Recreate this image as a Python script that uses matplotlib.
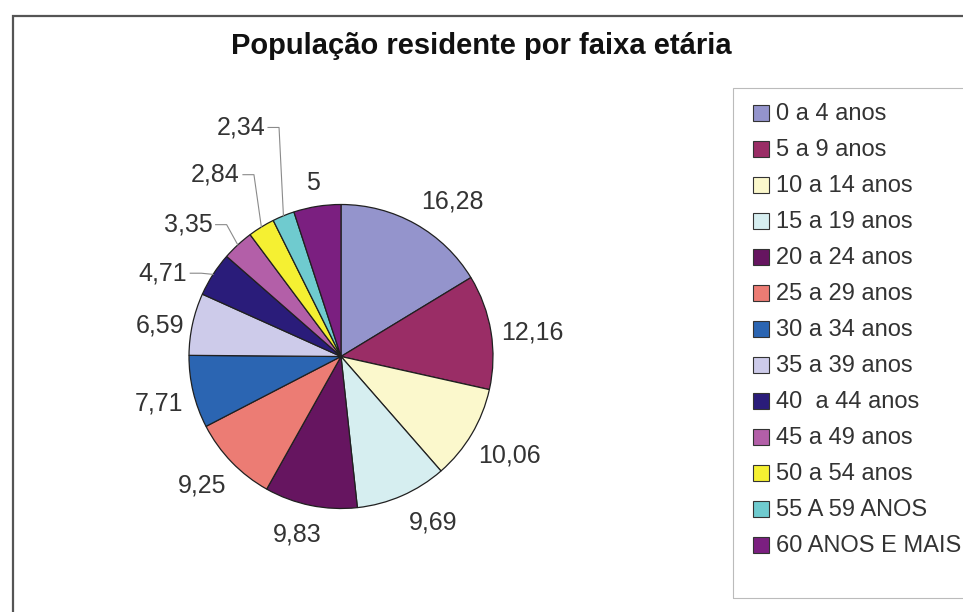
#------------------------------------------------ Packages used ------------------------------------------------#
import numpy as np
import matplotlib
matplotlib.use('Agg')
import matplotlib.pyplot as plt
from matplotlib.patches import Rectangle
#--------------------------------------------------------------------------------------------------------------#

plt.rcParams['font.family'] = ['Liberation Sans', 'DejaVu Sans']

# dados do grafico
titulo = 'População residente por faixa etária'
faixas = ['0 a 4 anos', '5 a 9 anos', '10 a 14 anos', '15 a 19 anos', '20 a 24 anos',
          '25 a 29 anos', '30 a 34 anos', '35 a 39 anos', '40  a 44 anos', '45 a 49 anos',
          '50 a 54 anos', '55 A 59 ANOS', '60 ANOS E MAIS']
percentuais = [16.28, 12.16, 10.06, 9.69, 9.83, 9.25, 7.71, 6.59, 4.71, 3.35, 2.84, 2.34, 5]
cores = ['#9494CC', '#9A2D66', '#FBF8CC', '#D6EEF0', '#661560', '#EC7C74', '#2B65B2',
         '#CDCBEA', '#2A1C7A', '#B35FA8', '#F5F032', '#6FCBCF', '#7B1F80']

# layout (pixels, y measured from top)
W, H = 963, 612
CX, CY, R = 341, 356.5, 152
GAP = 12
# labels moved by hand, with leader lines: index -> (angle, radius factor) of the right edge
manuais = {8: (150.7, 1.16), 9: (133.8, 1.22), 10: (118.8, 1.38), 11: (108.2, 1.60)}
# small shifts (px, right / down) so that the labels sit where Excel put them
ajustes = {0: (24, 0), 1: (-2, 8), 2: (7, 3), 3: (21, 4), 4: (-8, 5), 5: (-9, 3),
           6: (2, 3), 7: (3, 9), 8: (0, 3), 9: (0, 2), 10: (0, 2), 11: (0, 2)}


def px(x, y):
    # pixel (from top-left) -> figure fraction
    return x / W, 1 - y / H


fig = plt.figure(figsize=(W / 100, H / 100), dpi=100)
ax = fig.add_axes([0, 0, 1, 1])
wedges, _ = ax.pie(percentuais, colors=cores, startangle=90, counterclock=False, radius=1,
                   wedgeprops=dict(edgecolor='#202020', linewidth=0.9))
ax.set_aspect('auto')
ax.set_xlim(-CX / R, (W - CX) / R)
ax.set_ylim(-(H - CY) / R, CY / R)
ax.axis('off')

renderer = fig.canvas.get_renderer()
for i, (w, v) in enumerate(zip(wedges, percentuais)):
    rotulo = ('%g' % v).replace('.', ',')
    meio = np.deg2rad((w.theta1 + w.theta2) / 2)
    ddx, ddy = ajustes.get(i, (0, 0))
    ddx, ddy = ddx / R, -ddy / R
    if i in manuais:
        ang, fr = manuais[i]
        a = np.deg2rad(ang)
        x0, y0 = fr * np.cos(a), fr * np.sin(a) + ddy
        ax.text(x0, y0, rotulo, ha='right', va='center', fontsize=18, color='#333333')
        ex, ey = np.cos(meio), np.sin(meio)
        ax.plot([x0 + 3 / R, x0 + 14 / R, ex], [y0, y0, ey], color='#8a8a8a', lw=0.8)
        continue
    t = ax.text(0, 0, rotulo, ha='center', va='center', fontsize=18, color='#333333')
    bb = t.get_window_extent(renderer)
    hw, hh = bb.width / 2 / R, bb.height / 2 / R
    c, s = abs(np.cos(meio)), abs(np.sin(meio))
    d = min(hw / c if c > 1e-9 else 1e9, hh / s if s > 1e-9 else 1e9)
    dist = 1 + GAP / R + d
    t.set_position((dist * np.cos(meio) + ddx, dist * np.sin(meio) + ddy))

# title
tx, ty = px(481, 46)
fig.text(tx, ty, titulo, ha='center', va='center', fontsize=21, fontweight='bold', color='#111111')

# outer frame (cut at the right and bottom)
fx, fy = px(13, 16)
fig.patches.append(Rectangle((fx, -0.1), 1.2, fy + 0.1, transform=fig.transFigure,
                             fill=False, edgecolor='#555555', lw=1.6))

# legend box
lx, ly = px(733, 598)
fig.patches.append(Rectangle((lx, ly), 0.5, (598 - 88) / H, transform=fig.transFigure,
                             fill=False, edgecolor='#bbbbbb', lw=0.8))
for i, (w, nome) in enumerate(zip(wedges, faixas)):
    yy = 113 + 36 * i
    qx, qy = px(753, yy + 8)
    fig.patches.append(Rectangle((qx, qy), 16 / W, 16 / H, transform=fig.transFigure,
                                 facecolor=w.get_facecolor(), edgecolor='#333333', lw=0.8))
    nx, ny = px(776, yy + 1)
    fig.text(nx, ny, nome, ha='left', va='center', fontsize=17, color='#333333')

fig.savefig('out.png', dpi=100)
